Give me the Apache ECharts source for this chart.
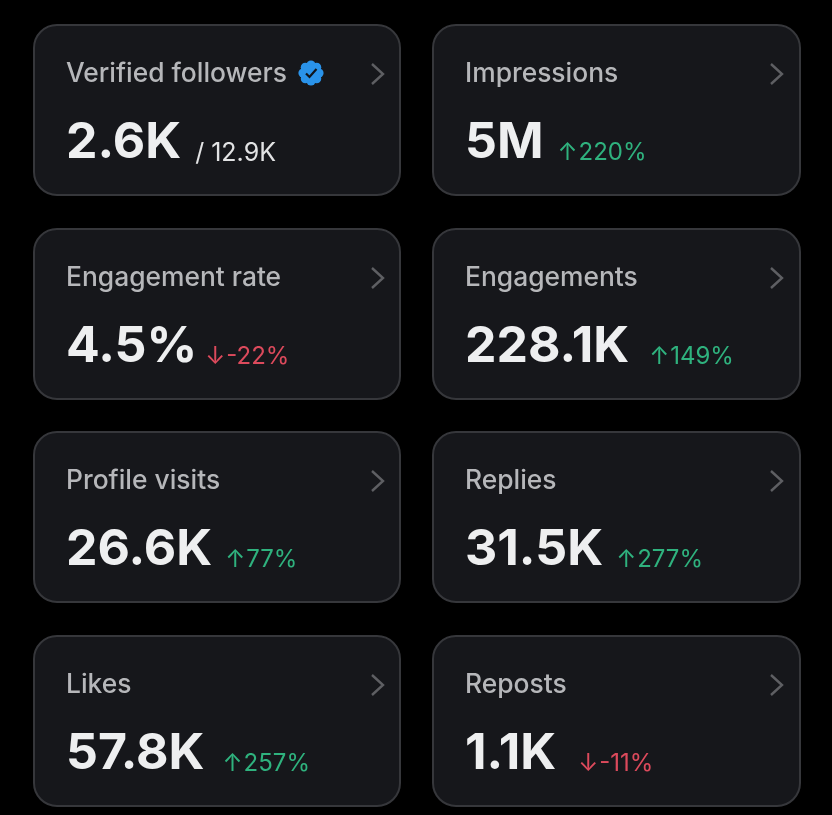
<!DOCTYPE html>
<html><head><meta charset="utf-8">
<style>html,body{margin:0;padding:0;background:#000}#c{width:832px;height:815px}</style>
<script src="https://cdn.jsdelivr.net/npm/echarts@6/dist/echarts.min.js"></script>
</head><body><div id="c"></div>
<script>
const titles=["Verified followers","Impressions","Engagement rate","Engagements","Profile visits","Replies","Likes","Reposts"];
const values=["2.6K","5M","4.5%","228.1K","26.6K","31.5K","57.8K","1.1K"];
const deltas=["/ 12.9K","220%","-22%","149%","77%","277%","257%","-11%"];
const kinds=["total","up","down","up","up","up","up","down"];

const chart=echarts.init(document.getElementById('c'),null,{renderer:'canvas'});
const colX=[34,433],colW=[366,367],rowY=[25,229,432,636],H=170;
const gaps=[14,14,8,20,13,13,18,22];
const FONT='Inter, "Noto Sans", sans-serif';
const G='#2fb27e',R='#dc4a5c';
const D='400 24px '+FONT;
const els=[];
titles.forEach((t,i)=>{
  const c=i%2,x=colX[c],y=rowY[Math.floor(i/2)];
  els.push({type:'rect',shape:{x:x,y:y,width:colW[c],height:H,r:23},style:{fill:'#16171b',stroke:'#36373b',lineWidth:2}});
  els.push({type:'text',x:x+32,y:y+49,style:{text:t,fill:'#b6b7ba',font:'500 26.4px '+FONT,verticalAlign:'middle'}});
  els.push({type:'polyline',shape:{points:[[x+338,y+39],[x+349,y+49],[x+338,y+59]]},style:{stroke:'#5e5f63',lineWidth:2.4,fill:null}});
  const k=kinds[i];
  const arrow=k==='up'?'↑':k==='down'?'↓':'';
  const dk=k==='total'?'t':k==='up'?'u':'r';
  els.push({type:'text',x:x+32,y:y+118,style:{
    text:'{v|'+values[i]+'}{g| }'+(arrow?'{'+dk+'a|'+arrow+'}{n|}':'')+'{'+dk+'|'+deltas[i]+'}',
    verticalAlign:'middle',
    rich:{
      v:{font:'700 50px '+FONT,fill:'#eeeff0',height:60},
      g:{font:D,width:gaps[i],height:60},
      n:{width:1,font:D},
      t:{font:'400 25px '+FONT,fill:'#e2e3e4',padding:[20,0,0,0]},
      u:{font:D,fill:G,padding:[20,0,0,0]},
      r:{font:D,fill:R,padding:[20,0,0,0]},
      ua:{font:D,fill:G,padding:[20,0,0,0]},
      ra:{font:D,fill:R,padding:[20,0,0,0]}
    }}});
});
// verified badge
const cx=311,cy=73;
for(let a=0;a<8;a++){
  const th=a*Math.PI/4;
  els.push({type:'circle',shape:{cx:cx+8*Math.cos(th),cy:cy+8*Math.sin(th),r:4.6},style:{fill:'#2a93ea'}});
}
els.push({type:'circle',shape:{cx:cx,cy:cy,r:9},style:{fill:'#2a93ea'}});
els.push({type:'polyline',shape:{points:[[cx-5,cy+0.5],[cx-1.5,cy+4],[cx+5.5,cy-4]]},style:{stroke:'#10151c',lineWidth:2.2,fill:null}});
chart.setOption({backgroundColor:'#000',animation:false,graphic:{elements:els}});
</script></body></html>
